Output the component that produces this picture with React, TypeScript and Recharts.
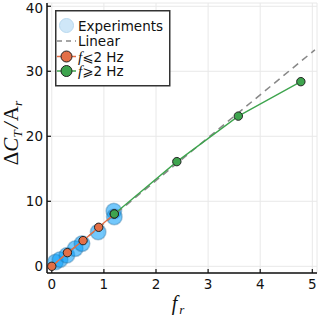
import React from 'react';
import { ScatterChart, Scatter, XAxis, YAxis, CartesianGrid, Legend } from 'recharts';

// experiments (blue, translucent)
const expX = [0.07, 0.16, 0.29, 0.45, 0.58, 0.89, 1.19, 1.2];
const expY = [0.66, 1.03, 1.69, 2.72, 3.49, 5.28, 8.5, 7.6];

// f <= 2 Hz
const lowX = [0, 0.3, 0.6, 0.9, 1.2];
const lowY = [0, 2.1, 3.95, 6.0, 8.05];

// f >= 2 Hz
const highX = [1.2, 2.4, 3.58, 4.78];
const highY = [8.05, 16.1, 23.1, 28.4];

// linear reference
const linX = [0, 5.05];
const linY = [0, 33.3];

const xTicks = [0, 1, 2, 3, 4, 5];
const yTicks = [0, 10, 20, 30, 40];

const zip = (xs: number[], ys: number[]) => xs.map((x, i) => ({ x, y: ys[i] }));

const expData = zip(expX, expY);
const lowData = zip(lowX, lowY);
const highData = zip(highX, highY);
const linData = zip(linX, linY);

const BLUE = '#009AFA';
const ORANGE = '#E36F47';
const GREEN = '#3EA44E';
const SANS = '"DejaVu Sans", sans-serif';
const SERIF = '"Liberation Serif", serif';

const dot = (fill: string, r: number) => (props: any) => (
  <circle cx={props.cx} cy={props.cy} r={r} fill={fill} stroke="#222" strokeWidth={1} />
);

const expDot = (props: any) => (
  <circle
    cx={props.cx}
    cy={props.cy}
    r={7.8}
    fill={BLUE}
    fillOpacity={0.55}
    stroke="#2c6a95"
    strokeOpacity={0.35}
    strokeWidth={1.5}
  />
);

const LegendBox = () => (
  <svg width={116} height={77}>
    <rect x={0.75} y={0.75} width={114} height={75} fill="#fff" stroke="#333" strokeWidth={1.5} />
    <circle cx={11.5} cy={15.5} r={7} fill="#cfe7f8" stroke="#b9d9ef" strokeWidth={1} />
    <text x={23} y={20.5} fontSize={13.5} fontFamily={SANS} fill="#111">Experiments</text>
    <line x1={2} x2={21} y1={31} y2={31} stroke="#888" strokeWidth={1.5} strokeDasharray="5 4" />
    <text x={23} y={36} fontSize={13.5} fontFamily={SANS} fill="#111">Linear</text>
    <line x1={2} x2={21} y1={46.5} y2={46.5} stroke={ORANGE} strokeWidth={1.5} />
    <circle cx={11.5} cy={46.5} r={5.5} fill={ORANGE} stroke="#222" strokeWidth={1} />
    <text x={23} y={51.5} fontSize={13.5} fill="#111">
      <tspan fontFamily={SERIF} fontStyle="italic" fontSize={15}>f</tspan>
      <tspan fontFamily={SANS}>⩽2 Hz</tspan>
    </text>
    <line x1={2} x2={21} y1={61} y2={61} stroke={GREEN} strokeWidth={1.5} />
    <circle cx={11.5} cy={61} r={5.5} fill={GREEN} stroke="#222" strokeWidth={1} />
    <text x={23} y={66} fontSize={13.5} fill="#111">
      <tspan fontFamily={SERIF} fontStyle="italic" fontSize={15}>f</tspan>
      <tspan fontFamily={SANS}>⩾2 Hz</tspan>
    </text>
  </svg>
);

const YLabel = () => (
  <text
    transform="translate(18,133) rotate(-90)"
    textAnchor="middle"
    fontSize={21}
    fontFamily={SERIF}
    fill="#111"
  >
    <tspan>Δ</tspan>
    <tspan fontStyle="italic">C</tspan>
    <tspan fontStyle="italic" fontSize={13.5} dy={4}>T</tspan>
    <tspan fontStyle="italic" dx={2} dy={-4}>/</tspan>
    <tspan dx={1}>A</tspan>
    <tspan fontStyle="italic" fontSize={13.5} dy={4}>r</tspan>
  </text>
);

const XLabel = () => (
  <text x={178} y={310} textAnchor="middle" fontSize={20} fontFamily={SERIF} fill="#111">
    <tspan fontStyle="italic">f</tspan>
    <tspan fontStyle="italic" fontSize={13} dx={2} dy={4}>r</tspan>
  </text>
);

export default function App() {
  return (
    <div style={{ position: 'absolute', left: 0, top: 0, width: 320, height: 319, background: '#fff' }}>
      <ScatterChart width={320} height={319} margin={{ top: 3, right: 3, bottom: 0, left: 0 }}>
        <CartesianGrid stroke="#e8e8e8" strokeWidth={1} />
        <XAxis
          type="number"
          dataKey="x"
          domain={[-0.092, 5.09]}
          ticks={xTicks}
          allowDataOverflow
          height={46}
          axisLine={{ stroke: '#111', strokeWidth: 1.5 }}
          tickLine={{ stroke: '#111', strokeWidth: 1.2 }}
          tickSize={-4}
          tickMargin={10}
          tick={{ fontSize: 13.5, fontFamily: SANS, fill: '#111' }}
        />
        <YAxis
          type="number"
          dataKey="y"
          domain={[-1.03, 40.5]}
          ticks={yTicks}
          allowDataOverflow
          width={47}
          axisLine={{ stroke: '#111', strokeWidth: 1.5 }}
          tickLine={{ stroke: '#111', strokeWidth: 1.2 }}
          tickSize={-4}
          tickMargin={8}
          tick={{ fontSize: 13.5, fontFamily: SANS, fill: '#111' }}
        />
        <Scatter data={expData} shape={expDot} isAnimationActive={false} />
        <Scatter
          data={linData}
          line={{ stroke: '#888', strokeWidth: 1.5, strokeDasharray: '7 5' }}
          shape={() => <g />}
          isAnimationActive={false}
        />
        <Scatter
          data={lowData}
          line={{ stroke: ORANGE, strokeWidth: 1.3 }}
          shape={dot(ORANGE, 4.2)}
          isAnimationActive={false}
        />
        <Scatter
          data={highData}
          line={{ stroke: GREEN, strokeWidth: 1.3 }}
          shape={dot(GREEN, 4.2)}
          isAnimationActive={false}
        />
        <Legend
          layout="vertical"
          align="center"
          verticalAlign="middle"
          wrapperStyle={{ position: 'absolute', left: 55, top: 9.5, width: 116, height: 77 }}
          content={() => <LegendBox />}
        />
        <YLabel />
        <XLabel />
      </ScatterChart>
    </div>
  );
}
